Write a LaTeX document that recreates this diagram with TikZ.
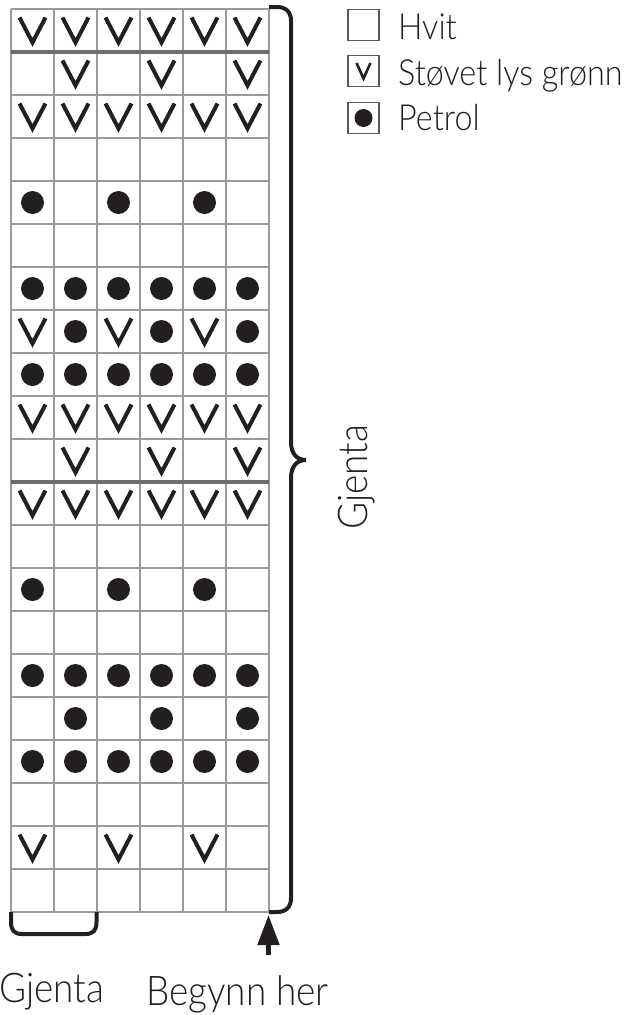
\documentclass[tikz,border=0pt]{standalone}
\usepackage{fontspec}
\setmainfont{Lato}[UprightFont=* Light, FakeStretch=0.9]
\usetikzlibrary{arrows.meta}
\definecolor{ink}{HTML}{231F20}
\definecolor{gridgray}{HTML}{9A9A9A}
\definecolor{bargray}{HTML}{6D6E71}
\definecolor{boxgray}{HTML}{58595B}
\tikzset{
  gridline/.style={draw=gridgray, line width=1.2pt},
  barline/.style={draw=bargray, line width=4.2pt},
  vsym/.style={draw=ink, line width=4pt, miter limit=10},
  dotsym/.style={fill=ink},
  bracestyle/.style={draw=ink, line width=4pt, line cap=butt},
  bigtext/.style={font=\fontsize{41}{41}\selectfont, text=ink, inner sep=0pt},
  legtext/.style={font=\fontsize{36}{36}\selectfont, text=ink, inner sep=0pt, anchor=base west},
  legbox/.style={draw=boxgray, line width=1.2pt, fill=white},
}
\begin{document}
\begin{tikzpicture}[x=1pt,y=-1pt]
\useasboundingbox (0,0) rectangle (631,1015);
% grid
\foreach \i in {0,...,6} \draw[gridline] ({11+43*\i},9) -- ({11+43*\i},912);
\foreach \j in {0,...,21} \draw[gridline] (11,{9+43*\j}) -- (269,{9+43*\j});
\draw[barline] (11,52) -- (269,52);
\draw[barline] (11,482) -- (269,482);
% symbols: 1 = V, 2 = dot
\foreach \r/\pat in {
 1/{1,1,1,1,1,1}, 2/{0,1,0,1,0,1}, 3/{1,1,1,1,1,1}, 4/{0,0,0,0,0,0},
 5/{2,0,2,0,2,0}, 6/{0,0,0,0,0,0}, 7/{2,2,2,2,2,2}, 8/{1,2,1,2,1,2},
 9/{2,2,2,2,2,2}, 10/{1,1,1,1,1,1}, 11/{0,1,0,1,0,1}, 12/{1,1,1,1,1,1},
 13/{0,0,0,0,0,0}, 14/{2,0,2,0,2,0}, 15/{0,0,0,0,0,0}, 16/{2,2,2,2,2,2},
 17/{0,2,0,2,0,2}, 18/{2,2,2,2,2,2}, 19/{0,0,0,0,0,0}, 20/{1,0,1,0,1,0},
 21/{0,0,0,0,0,0}} {
  \foreach \s [count=\c] in \pat {
    \pgfmathsetmacro{\cx}{43*\c-10.5}
    \pgfmathsetmacro{\cy}{43*\r-12.5}
    \ifnum\s=1\relax
      \draw[vsym] (\cx-13,\cy-13) -- (\cx,\cy+12) -- (\cx+13,\cy-13);
    \fi
    \ifnum\s=2\relax
      \fill[dotsym] (\cx,\cy) circle (11.5);
    \fi
  }
}
% right brace
\coordinate (btop) at (269,7);
\coordinate (bbot) at (269,912);
\draw[bracestyle] (btop) -- (277,7) .. controls (286,7) and (291,12) .. (291,21)
  -- (291,442) .. controls (291,454) and (297,460) .. (306,460)
  .. controls (297,460) and (291,466) .. (291,478)
  -- (291,898) .. controls (291,907) and (286,912) .. (277,912) -- (bbot);
\node[bigtext, rotate=90, anchor=base] (gj1) at (367,477) {Gjenta};
% bottom bracket
\coordinate (lbl) at (11,912);
\coordinate (lbr) at (96.5,912);
\draw[bracestyle] (lbl) -- (11,922) .. controls (11,930) and (14,934) .. (22,934)
  -- (85.5,934) .. controls (93.5,934) and (96.5,930) .. (96.5,922) -- (lbr);
\node[bigtext, anchor=base] (gj2) at (52,1002) {Gjenta};
% arrow
\coordinate (astart) at (268.5,955);
\coordinate (aend) at (268.5,915);
\draw[draw=ink, line width=5pt, -{Triangle[length=30pt 0 0, width=21pt 0 0]}] (astart) -- (aend);
\node[bigtext, anchor=base] (beg) at (237.5,1005) {Begynn her};
% legend
\node[legbox, minimum size=31pt, inner sep=0pt] (lb1) at (363.5,25) {};
\node[legbox, minimum size=31pt, inner sep=0pt] (lb2) at (363.5,71) {};
\node[legbox, minimum size=31pt, inner sep=0pt] (lb3) at (363.5,118) {};
\draw[draw=ink, line width=2.6pt] ([shift={(-7,-8)}]lb2.center) -- ([shift={(0,7.5)}]lb2.center) -- ([shift={(7,-8)}]lb2.center);
\fill[ink] (lb3.center) circle (9);
\node[legtext] (l1) at (398,39) {Hvit};
\node[legtext] (l2) at (398,85) {Støvet lys grønn};
\node[legtext] (l3) at (398,130) {Petrol};
\end{tikzpicture}
\end{document}
